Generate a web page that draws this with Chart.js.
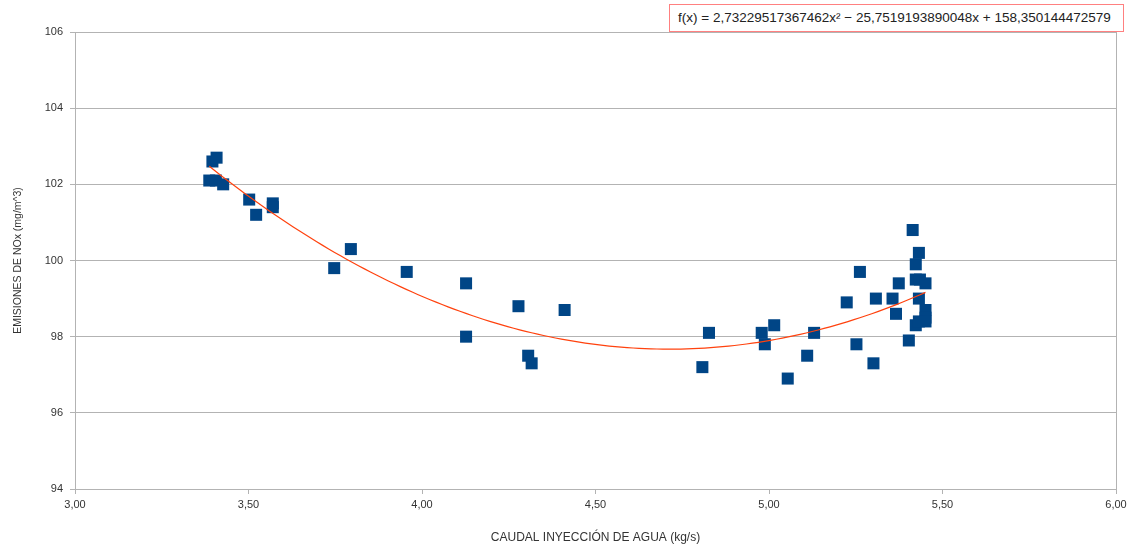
<!DOCTYPE html>
<html>
<head>
<meta charset="utf-8">
<script src="https://cdn.jsdelivr.net/npm/chart.js@4"></script>
<style>
  html, body { margin: 0; padding: 0; background: #fff; }
  #wrap { position: relative; width: 1138px; height: 549px; }
  #eq {
    position: absolute; left: 669px; top: 4px; width: 455px; height: 28px;
    border: 1px solid #ff8080; background: #fff; box-sizing: border-box;
    font: 13.5px "Liberation Sans", Arial, sans-serif; color: #222;
    line-height: 26px; padding-left: 8px; white-space: nowrap;
  }
</style>
</head>
<body>
<div id="wrap">
  <canvas id="chart" width="1138" height="549"></canvas>
  <div id="eq">f(x) = 2,73229517367462x² − 25,7519193890048x + 158,350144472579</div>
</div>
<script>
// caudal (kg/s) y emisiones de NOx medidas
const caudal = [
  3.396, 3.408, 3.387, 3.406, 3.427, 3.502, 3.522, 3.570, 3.570, 3.747,
  3.795, 3.956, 4.127, 4.127, 4.278, 4.306, 4.316, 4.411, 4.808, 4.827,
  4.979, 4.988, 5.015, 5.054, 5.110, 5.130, 5.224, 5.252, 5.262, 5.301,
  5.308, 5.356, 5.366, 5.374, 5.403, 5.414, 5.423, 5.423, 5.432, 5.435,
  5.432, 5.451, 5.451, 5.451, 5.451, 5.423, 5.432
];
const emisiones = [
  102.6, 102.7, 102.1, 102.1, 102.0, 101.6, 101.2, 101.5, 101.4, 99.8,
  100.3, 99.7, 99.4, 98.0, 98.8, 97.5, 97.3, 98.7, 97.2, 98.1,
  98.1, 97.8, 98.3, 96.9, 97.5, 98.1, 98.9, 97.8, 99.7, 97.3,
  99.0, 99.0, 98.6, 99.4, 97.9, 100.8, 99.9, 99.5, 100.2, 99.5,
  99.0, 99.4, 98.7, 98.5, 98.4, 98.3, 98.4
];

// coeficientes de la línea de tendencia polinómica (grado 2)
const coefA = 2.73229517367462;
const coefB = -25.7519193890048;
const coefC = 158.350144472579;

const xTicks = [3, 3.5, 4, 4.5, 5, 5.5, 6];
const yTicks = [94, 96, 98, 100, 102, 104, 106];

const puntos = caudal.map((x, i) => ({ x: x, y: emisiones[i] }));

// curva de tendencia entre el mínimo y el máximo caudal
const xMin = Math.min(...caudal);
const xMax = Math.max(...caudal);
const tendencia = [];
for (let i = 0; i <= 120; i++) {
  const x = xMin + (xMax - xMin) * i / 120;
  tendencia.push({ x: x, y: coefA * x * x + coefB * x + coefC });
}

const fmt = v => Number(v).toFixed(2).replace('.', ',');
const fuente = '"Liberation Sans", Arial, sans-serif';

// borde derecho del área de trazado
const rightBorder = {
  id: 'rightBorder',
  beforeDatasetsDraw(chart) {
    const { ctx, chartArea } = chart;
    ctx.save();
    ctx.strokeStyle = '#b3b3b3';
    ctx.lineWidth = 1;
    ctx.beginPath();
    ctx.moveTo(Math.round(chartArea.right) + 0.5, chartArea.top);
    ctx.lineTo(Math.round(chartArea.right) + 0.5, chartArea.bottom);
    ctx.stroke();
    ctx.restore();
  }
};

new Chart(document.getElementById('chart'), {
  type: 'scatter',
  data: {
    datasets: [
      {
        label: 'Tendencia',
        data: tendencia,
        showLine: true,
        borderColor: '#ff420e',
        borderWidth: 1.2,
        pointRadius: 0,
        fill: false,
        tension: 0
      },
      {
        label: 'Emisiones',
        data: puntos,
        pointStyle: 'rect',
        pointRadius: 8.5,
        backgroundColor: '#004586',
        borderColor: '#004586',
        borderWidth: 0
      }
    ]
  },
  options: {
    responsive: false,
    animation: false,
    layout: { padding: { top: 32, right: 22, left: 0, bottom: 0 } },
    plugins: { legend: { display: false }, tooltip: { enabled: false } },
    scales: {
      x: {
        type: 'linear',
        min: 3, max: 6,
        afterBuildTicks: s => { s.ticks = xTicks.map(v => ({ value: v })); },
        afterFit: s => { s.height = 60; },
        ticks: {
          callback: v => fmt(v),
          color: '#333',
          font: { family: fuente, size: 11 },
          padding: 4,
          maxRotation: 0
        },
        grid: { drawOnChartArea: false, drawTicks: true, tickLength: 5, color: '#b3b3b3' },
        border: { color: '#b3b3b3' },
        title: {
          display: true,
          text: 'CAUDAL INYECCIÓN DE AGUA (kg/s)',
          color: '#333',
          font: { family: fuente, size: 12 },
          padding: { top: 13 }
        }
      },
      y: {
        min: 94, max: 106,
        afterBuildTicks: s => { s.ticks = yTicks.map(v => ({ value: v })); },
        afterFit: s => { s.width = 75; },
        ticks: {
          color: '#333',
          font: { family: fuente, size: 11 },
          padding: 7
        },
        grid: { color: '#b3b3b3', tickLength: 5 },
        border: { color: '#b3b3b3' },
        title: {
          display: true,
          text: 'EMISIONES DE NOx (mg/m^3)',
          color: '#333',
          font: { family: fuente, size: 10.5 },
          padding: { top: 12, bottom: 0 }
        }
      }
    }
  },
  plugins: [rightBorder]
});
</script>
</body>
</html>
